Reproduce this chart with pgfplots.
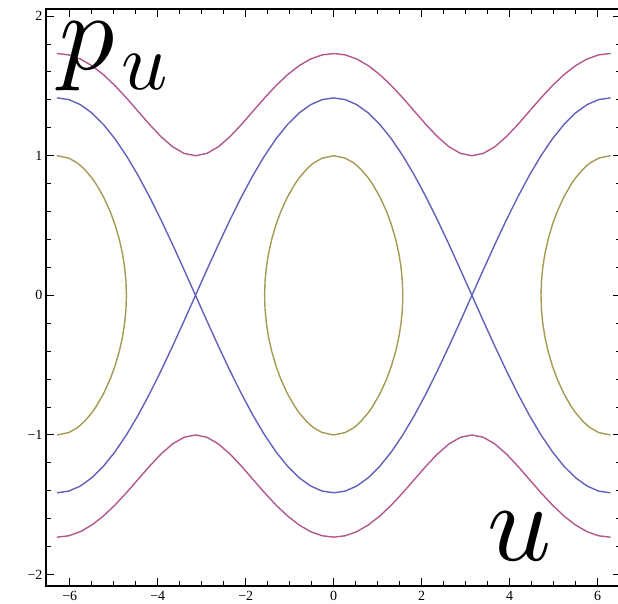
\documentclass[border=0pt]{standalone}
\usepackage{fontspec}
\setmainfont{Liberation Serif}
\usepackage{pgfplots}
\pgfplotsset{compat=1.18}
\usepackage{pgfplotstable}

\definecolor{cMag}{rgb}{0.70,0.34,0.56}
\definecolor{cBlue}{rgb}{0.38,0.38,0.74}
\definecolor{cOlive}{rgb}{0.66,0.60,0.32}

% level curves p_u(u) of the outer (rotating) orbit and the separatrix
\pgfplotstableread{
u       mtop    mbot     btop    bbot
-6.2832 1.7321 -1.7321 1.4142 -1.4142
-6.0214 1.7222 -1.7222 1.4021 -1.4021
-5.7596 1.6929 -1.6929 1.3660 -1.3660
-5.4978 1.6453 -1.6453 1.3066 -1.3066
-5.2360 1.5811 -1.5811 1.2247 -1.2247
-4.9742 1.5029 -1.5029 1.1220 -1.1220
-4.7124 1.4142 -1.4142 1.0000 -1.0000
-4.4506 1.3195 -1.3195 0.8609 -0.8609
-4.1888 1.2247 -1.2247 0.7071 -0.7071
-3.9270 1.1371 -1.1371 0.5412 -0.5412
-3.6652 1.0649 -1.0649 0.3660 -0.3660
-3.4034 1.0169 -1.0169 0.1846 -0.1846
-3.1416 1.0000 -1.0000 0.0000  0.0000
-2.8798 1.0169 -1.0169 0.1846 -0.1846
-2.6180 1.0649 -1.0649 0.3660 -0.3660
-2.3562 1.1371 -1.1371 0.5412 -0.5412
-2.0944 1.2247 -1.2247 0.7071 -0.7071
-1.8326 1.3195 -1.3195 0.8609 -0.8609
-1.5708 1.4142 -1.4142 1.0000 -1.0000
-1.3090 1.5029 -1.5029 1.1220 -1.1220
-1.0472 1.5811 -1.5811 1.2247 -1.2247
-0.7854 1.6453 -1.6453 1.3066 -1.3066
-0.5236 1.6929 -1.6929 1.3660 -1.3660
-0.2618 1.7222 -1.7222 1.4021 -1.4021
 0.0000 1.7321 -1.7321 1.4142 -1.4142
 0.2618 1.7222 -1.7222 1.4021 -1.4021
 0.5236 1.6929 -1.6929 1.3660 -1.3660
 0.7854 1.6453 -1.6453 1.3066 -1.3066
 1.0472 1.5811 -1.5811 1.2247 -1.2247
 1.3090 1.5029 -1.5029 1.1220 -1.1220
 1.5708 1.4142 -1.4142 1.0000 -1.0000
 1.8326 1.3195 -1.3195 0.8609 -0.8609
 2.0944 1.2247 -1.2247 0.7071 -0.7071
 2.3562 1.1371 -1.1371 0.5412 -0.5412
 2.6180 1.0649 -1.0649 0.3660 -0.3660
 2.8798 1.0169 -1.0169 0.1846 -0.1846
 3.1416 1.0000 -1.0000 0.0000  0.0000
 3.4034 1.0169 -1.0169 0.1846 -0.1846
 3.6652 1.0649 -1.0649 0.3660 -0.3660
 3.9270 1.1371 -1.1371 0.5412 -0.5412
 4.1888 1.2247 -1.2247 0.7071 -0.7071
 4.4506 1.3195 -1.3195 0.8609 -0.8609
 4.7124 1.4142 -1.4142 1.0000 -1.0000
 4.9742 1.5029 -1.5029 1.1220 -1.1220
 5.2360 1.5811 -1.5811 1.2247 -1.2247
 5.4978 1.6453 -1.6453 1.3066 -1.3066
 5.7596 1.6929 -1.6929 1.3660 -1.3660
 6.0214 1.7222 -1.7222 1.4021 -1.4021
 6.2832 1.7321 -1.7321 1.4142 -1.4142
}\curves

\begin{document}
\begin{tikzpicture}
\useasboundingbox (0pt,0pt) rectangle (618pt,603pt);
\begin{axis}[
  at={(46pt,17pt)}, anchor=south west,
  scale only axis, width=575.4pt, height=577pt,
  xmin=-6.54, xmax=6.54, ymin=-2.082, ymax=2.051,
  xtick={-6,-4,-2,0,2,4,6},
  xticklabels={−6,−4,−2,0,2,4,6},
  ytick={-2,-1,0,1,2},
  yticklabels={−2,−1,0,1,2},
  minor x tick num=3, minor y tick num=4,
  tick align=inside,
  major tick length=8pt, minor tick length=5pt,
  every major tick/.style={black, line width=1pt},
  every minor tick/.style={black, line width=1pt},
  axis line style={black, line width=1.4pt},
  tick label style={font=\fontsize{14}{16}\selectfont, text=black},
  xticklabel shift=1.5pt, yticklabel shift=0pt,
  every axis plot/.append style={line width=1.4pt, line join=round, line cap=round},
]
\addplot[cMag]  table[x=u, y=mtop] {\curves};
\addplot[cMag]  table[x=u, y=mbot] {\curves};
\addplot[cBlue] table[x=u, y=btop] {\curves};
\addplot[cBlue] table[x=u, y=bbot] {\curves};

% closed orbit around the origin
\addplot[cOlive] coordinates {
(0,1) (0.2618,0.9828) (0.4469,0.95) (0.5236,0.9306) (0.6259,0.9) (0.7854,0.8409)
(0.8763,0.8) (1.0472,0.7071) (1.2025,0.6) (1.3090,0.5088) (1.4101,0.4) (1.4806,0.3)
(1.5308,0.2) (1.5608,0.1) (1.5708,0)
(1.5608,-0.1) (1.5308,-0.2) (1.4806,-0.3) (1.4101,-0.4) (1.3090,-0.5088) (1.2025,-0.6)
(1.0472,-0.7071) (0.8763,-0.8) (0.7854,-0.8409) (0.6259,-0.9) (0.5236,-0.9306)
(0.4469,-0.95) (0.2618,-0.9828) (0,-1)
(-0.2618,-0.9828) (-0.4469,-0.95) (-0.5236,-0.9306) (-0.6259,-0.9) (-0.7854,-0.8409)
(-0.8763,-0.8) (-1.0472,-0.7071) (-1.2025,-0.6) (-1.3090,-0.5088) (-1.4101,-0.4)
(-1.4806,-0.3) (-1.5308,-0.2) (-1.5608,-0.1) (-1.5708,0)
(-1.5608,0.1) (-1.5308,0.2) (-1.4806,0.3) (-1.4101,0.4) (-1.3090,0.5088) (-1.2025,0.6)
(-1.0472,0.7071) (-0.8763,0.8) (-0.7854,0.8409) (-0.6259,0.9) (-0.5236,0.9306)
(-0.4469,0.95) (-0.2618,0.9828) (0,1)
};
% same orbit, centred at u = 2 pi
\addplot[cOlive] coordinates {
(6.2832,1) (6.0214,0.9828) (5.8363,0.95) (5.7596,0.9306) (5.6573,0.9) (5.4978,0.8409)
(5.4069,0.8) (5.2360,0.7071) (5.0807,0.6) (4.9742,0.5088) (4.8731,0.4) (4.8026,0.3)
(4.7524,0.2) (4.7224,0.1) (4.7124,0)
(4.7224,-0.1) (4.7524,-0.2) (4.8026,-0.3) (4.8731,-0.4) (4.9742,-0.5088) (5.0807,-0.6)
(5.2360,-0.7071) (5.4069,-0.8) (5.4978,-0.8409) (5.6573,-0.9) (5.7596,-0.9306)
(5.8363,-0.95) (6.0214,-0.9828) (6.2832,-1)
};
% same orbit, centred at u = -2 pi
\addplot[cOlive] coordinates {
(-6.2832,1) (-6.0214,0.9828) (-5.8363,0.95) (-5.7596,0.9306) (-5.6573,0.9) (-5.4978,0.8409)
(-5.4069,0.8) (-5.2360,0.7071) (-5.0807,0.6) (-4.9742,0.5088) (-4.8731,0.4) (-4.8026,0.3)
(-4.7524,0.2) (-4.7224,0.1) (-4.7124,0)
(-4.7224,-0.1) (-4.7524,-0.2) (-4.8026,-0.3) (-4.8731,-0.4) (-4.9742,-0.5088) (-5.0807,-0.6)
(-5.2360,-0.7071) (-5.4069,-0.8) (-5.4978,-0.8409) (-5.6573,-0.9) (-5.7596,-0.9306)
(-5.8363,-0.95) (-6.0214,-0.9828) (-6.2832,-1)
};
\end{axis}
% axis names
\node[anchor=base west, inner sep=0pt, scale=11] at (57pt,533pt) {$p$};
\node[anchor=base west, inner sep=0pt, scale=8.1] at (120pt,513pt) {$u$};
\node[anchor=base west, inner sep=0pt, scale=11.2] at (485pt,43pt) {$u$};
\end{tikzpicture}
\end{document}
